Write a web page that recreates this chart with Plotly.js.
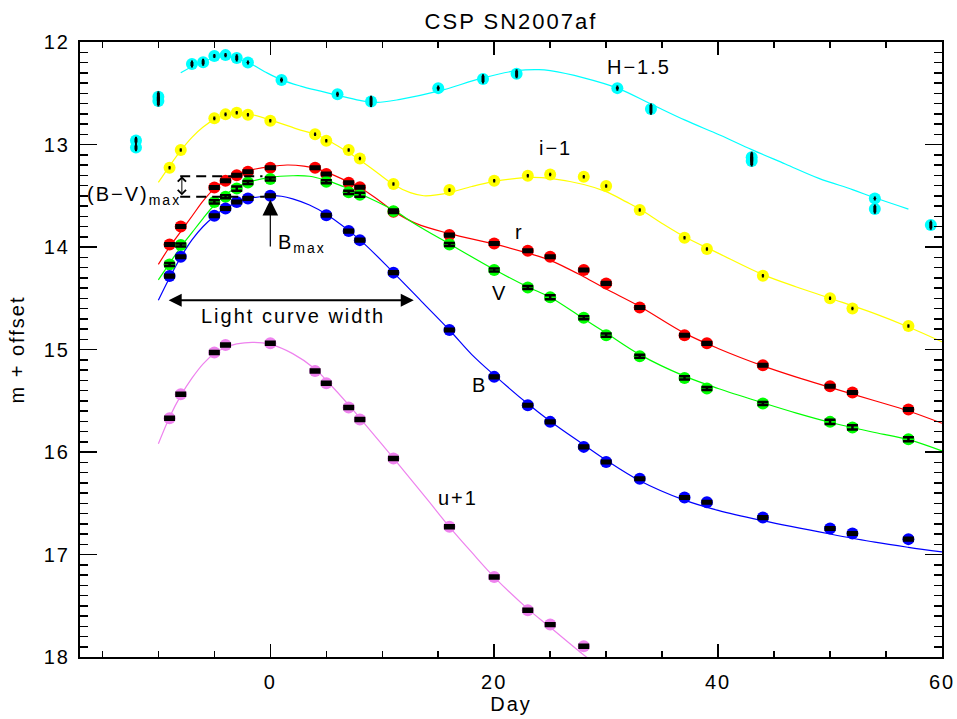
<!DOCTYPE html>
<html><head><meta charset="utf-8">
<script src="https://cdn.plot.ly/plotly-3.0.1.min.js"></script>
<style>
html,body{margin:0;padding:0;background:#fff}
#chart{width:957px;height:719px}
text{letter-spacing:2px}
</style></head><body><div id="chart"></div>
<script>
// ---------- observed photometry (day relative to B max, magnitude + offset) ----------
const H_day = [-12, -12, -10, -10, -7, -6, -5, -4, -3, -2, 1, 6, 9, 15, 19, 22, 31, 34, 43, 43, 54, 54, 59];
const H_mag = [12.96, 13.03, 12.535, 12.575, 12.215, 12.198, 12.137, 12.128, 12.155, 12.20, 12.37, 12.51, 12.58, 12.45, 12.36, 12.31, 12.45, 12.654, 13.125, 13.16, 13.526, 13.63, 13.786];
const H_err = [0.02, 0.02, 0.04, 0.04, 0.02, 0.02, 0.005, 0.005, 0.02, 0.005, 0.01, 0.01, 0.04, 0.01, 0.03, 0.03, 0.01, 0.04, 0.04, 0.04, 0.005, 0.03, 0.03];

const i_day = [-9, -8, -5, -4, -3, -2, 0, 4, 5, 7, 8, 11, 16, 20, 23, 25, 28, 30, 33, 37, 39, 44, 50, 52, 57];
const i_mag = [13.227, 13.054, 12.745, 12.706, 12.69, 12.71, 12.768, 12.90, 12.963, 13.054, 13.136, 13.386, 13.445, 13.354, 13.305, 13.292, 13.315, 13.405, 13.64, 13.91, 14.02, 14.28, 14.50, 14.60, 14.77];
const i_err = [0.005, 0.005, 0.005, 0.005, 0.005, 0.005, 0.005, 0.005, 0.005, 0.005, 0.005, 0.005, 0.005, 0.005, 0.005, 0.005, 0.005, 0.005, 0.005, 0.005, 0.005, 0.005, 0.005, 0.005, 0.005];

const r_day = [-9, -8, -5, -4, -3, -2, 0, 4, 5, 7, 8, 11, 16, 20, 23, 25, 28, 30, 33, 37, 39, 44, 50, 52, 57];
const r_mag = [13.975, 13.80, 13.42, 13.354, 13.30, 13.266, 13.227, 13.227, 13.288, 13.373, 13.418, 13.656, 13.884, 13.965, 14.037, 14.096, 14.225, 14.355, 14.59, 14.86, 14.94, 15.153, 15.358, 15.42, 15.586];
const r_err = [0.01, 0.01, 0.01, 0.01, 0.01, 0.01, 0.01, 0.01, 0.01, 0.01, 0.01, 0.01, 0.01, 0.01, 0.01, 0.01, 0.01, 0.01, 0.01, 0.01, 0.01, 0.01, 0.01, 0.01, 0.01];

const V_day = [-9, -8, -5, -4, -3, -2, 0, 5, 7, 8, 11, 16, 20, 23, 25, 28, 30, 33, 37, 39, 44, 50, 52, 57];
const V_mag = [14.17, 13.98, 13.56, 13.51, 13.43, 13.37, 13.337, 13.363, 13.467, 13.49, 13.65, 13.975, 14.225, 14.395, 14.49, 14.69, 14.86, 15.065, 15.277, 15.38, 15.527, 15.706, 15.76, 15.875];
const V_err = [0.015, 0.015, 0.015, 0.015, 0.02, 0.015, 0.015, 0.015, 0.015, 0.02, 0.015, 0.015, 0.015, 0.015, 0.02, 0.015, 0.015, 0.015, 0.015, 0.015, 0.015, 0.02, 0.02, 0.02];

const B_day = [-9, -8, -5, -4, -3, -2, 0, 5, 7, 8, 11, 16, 20, 23, 25, 28, 30, 33, 37, 39, 44, 50, 52, 57];
const B_mag = [14.284, 14.096, 13.695, 13.624, 13.56, 13.526, 13.50, 13.69, 13.845, 13.933, 14.25, 14.81, 15.267, 15.543, 15.706, 15.95, 16.097, 16.26, 16.444, 16.49, 16.64, 16.747, 16.795, 16.85];
const B_err = [0.01, 0.01, 0.01, 0.01, 0.01, 0.01, 0.01, 0.01, 0.01, 0.01, 0.01, 0.01, 0.01, 0.01, 0.01, 0.01, 0.01, 0.01, 0.01, 0.01, 0.01, 0.01, 0.01, 0.01];

const u_day = [-9, -8, -5, -4, 0, 4, 5, 7, 8, 11, 16, 20, 23, 25, 28];
const u_mag = [15.67, 15.436, 15.03, 14.957, 14.94, 15.21, 15.33, 15.566, 15.683, 16.064, 16.73, 17.22, 17.544, 17.684, 17.896];
const u_err = [0.012, 0.012, 0.012, 0.012, 0.012, 0.012, 0.012, 0.012, 0.012, 0.012, 0.012, 0.012, 0.012, 0.012, 0.012];

// ---------- template fits (knots) ----------
const H_fit_day = [-8, -6, -4, -2, -0.5, 1, 2.7, 4.5, 6, 8, 9.5, 11.6, 15, 19, 22, 24, 25, 28, 31, 34, 37, 40.2, 43, 46, 49, 52, 54, 57];
const H_fit_mag = [12.30, 12.19, 12.14, 12.20, 12.29, 12.37, 12.43, 12.48, 12.52, 12.57, 12.59, 12.56, 12.48, 12.35, 12.28, 12.27, 12.28, 12.35, 12.45, 12.605, 12.76, 12.91, 13.05, 13.19, 13.33, 13.44, 13.52, 13.63];

const i_fit_day = [-10, -9, -8, -7, -6, -5, -4, -3, -2, 0, 2.7, 4, 5.5, 7, 8, 9.5, 11, 12.5, 13.7, 15, 16, 18, 20, 22, 23.5, 25, 28, 30, 31.8, 33, 35, 37, 40, 44, 47, 50, 54, 57, 60];
const i_fit_mag = [13.37, 13.21, 13.06, 12.93, 12.83, 12.755, 12.71, 12.69, 12.70, 12.76, 12.86, 12.90, 12.98, 13.08, 13.15, 13.27, 13.39, 13.47, 13.50, 13.49, 13.47, 13.41, 13.36, 13.33, 13.32, 13.33, 13.39, 13.46, 13.56, 13.63, 13.77, 13.90, 14.06, 14.27, 14.39, 14.50, 14.65, 14.78, 14.925];

const r_fit_day = [-10, -9, -8, -7, -6, -5, -4, -3, -2, 0, 1.5, 3, 4, 5, 6.5, 8, 9.5, 11, 13, 16, 20, 23, 25, 28, 30, 33, 37, 40, 44, 47, 50, 54, 57, 60];
const r_fit_mag = [14.17, 14.00, 13.85, 13.70, 13.55, 13.43, 13.35, 13.29, 13.255, 13.215, 13.20, 13.21, 13.23, 13.27, 13.34, 13.42, 13.53, 13.65, 13.77, 13.87, 13.97, 14.06, 14.13, 14.29, 14.41, 14.58, 14.84, 14.99, 15.16, 15.27, 15.37, 15.50, 15.60, 15.72];

const V_fit_day = [-10, -9, -8, -7, -6, -5, -4, -3, -2, 0, 2, 3.5, 5, 6.5, 8, 11, 13, 16, 20, 23, 25, 28, 30, 33, 37, 40, 44, 47, 50, 54, 57, 60];
const V_fit_mag = [14.32, 14.16, 14.00, 13.86, 13.72, 13.59, 13.49, 13.42, 13.37, 13.32, 13.305, 13.31, 13.35, 13.41, 13.48, 13.64, 13.78, 13.97, 14.22, 14.39, 14.49, 14.70, 14.84, 15.05, 15.26, 15.38, 15.52, 15.62, 15.71, 15.81, 15.88, 15.99];

const B_fit_day = [-10, -9, -8, -7, -6, -5, -4, -3, -2, 0, 1, 2, 3.5, 5, 8, 11, 13.5, 16, 18, 20, 23, 25, 28, 30, 33, 37, 40, 44, 50, 54, 57, 60];
const B_fit_mag = [14.52, 14.30, 14.10, 13.93, 13.80, 13.70, 13.62, 13.57, 13.53, 13.50, 13.505, 13.53, 13.59, 13.68, 13.93, 14.25, 14.53, 14.81, 15.05, 15.25, 15.53, 15.70, 15.93, 16.08, 16.28, 16.47, 16.57, 16.67, 16.80, 16.88, 16.93, 16.975];

const u_fit_day = [-10, -9, -8, -7, -6, -5, -4, -3, -1.5, 0, 2, 4, 5, 7, 8, 11, 14, 16, 18, 20, 23, 25, 28, 29];
const u_fit_mag = [15.92, 15.66, 15.45, 15.28, 15.14, 15.04, 14.98, 14.945, 14.93, 14.95, 15.04, 15.19, 15.30, 15.54, 15.67, 16.06, 16.46, 16.73, 16.98, 17.22, 17.53, 17.71, 17.98, 18.06];

// ---------- curve labels ----------
const label_text = ['H\u22121.5', 'i\u22121', 'r', 'V', 'B', 'u+1'];
const label_day  = [32.95, 25.45, 22.3, 20.5, 18.65, 16.8];
const label_mag  = [12.245, 13.03, 13.85, 14.445, 15.343, 16.446];

const bands = [
  {d:H_day, m:H_mag, e:H_err, fd:H_fit_day, fm:H_fit_mag, c:'#00FFFF', cap:1, th:3},
  {d:i_day, m:i_mag, e:i_err, fd:i_fit_day, fm:i_fit_mag, c:'#FFFF00', cap:1, th:2.5},
  {d:r_day, m:r_mag, e:r_err, fd:r_fit_day, fm:r_fit_mag, c:'#FF0000', cap:5.5, th:3},
  {d:V_day, m:V_mag, e:V_err, fd:V_fit_day, fm:V_fit_mag, c:'#00FF00', cap:5.5, th:2.5},
  {d:B_day, m:B_mag, e:B_err, fd:B_fit_day, fm:B_fit_mag, c:'#0000FF', cap:5.5, th:3},
  {d:u_day, m:u_mag, e:u_err, fd:u_fit_day, fm:u_fit_mag, c:'#EE82EE', cap:5.5, th:3}
];

const traces = [];
// fitted curves
bands.forEach(b => {
  traces.push({x:b.fd, y:b.fm, type:'scatter', mode:'lines', line:{color:b.c, width:1.2, shape:'spline', smoothing:1}, hoverinfo:'skip'});
});
// coloured symbols
bands.forEach(b => {
  traces.push({x:b.d, y:b.m, type:'scatter', mode:'markers', marker:{color:b.c, size:12, line:{width:0}}});
});
// black error bars drawn on top of the symbols
bands.forEach(b => {
  traces.push({x:b.d, y:b.m, type:'scatter', mode:'markers', marker:{color:b.c, size:1, opacity:0},
    error_y:{type:'data', array:b.e, visible:true, color:'black', thickness:b.th, width:b.cap}});
});

const FONT = 'Liberation Sans, Arial, sans-serif';
const annotations = label_text.map((t, k) => ({
  x: label_day[k], y: label_mag[k], xref:'x', yref:'y', text:t, showarrow:false,
  font:{family:FONT, size:20, color:'black'}, xanchor:'center', yanchor:'middle'
}));

// B max arrow
annotations.push({x:0, y:13.54, ax:0, ay:14.01, xref:'x', yref:'y', axref:'x', ayref:'y', text:'', showarrow:true,
  arrowhead:2, arrowsize:2.6, arrowwidth:1.2, arrowcolor:'black'});
annotations.push({x:0.55, y:13.97, xref:'x', yref:'y', text:'B<sub>max</sub>', showarrow:false, xanchor:'left', yanchor:'middle',
  font:{family:FONT, size:20, color:'black'}});
// light curve width
annotations.push({x:-9.08, y:14.52, ax:12.95, ay:14.52, xref:'x', yref:'y', axref:'x', ayref:'y', text:'', showarrow:true,
  arrowhead:2, startarrowhead:2, arrowside:'end+start', arrowsize:1.3, startarrowsize:1.3, arrowwidth:2, arrowcolor:'black'});
annotations.push({x:2.05, y:14.67, xref:'x', yref:'y', text:'Light curve width', showarrow:false, xanchor:'center', yanchor:'middle',
  font:{family:FONT, size:20, color:'black'}});
// (B-V)max
annotations.push({x:-7.9, y:13.31, ax:-7.9, ay:13.51, xref:'x', yref:'y', axref:'x', ayref:'y', text:'', showarrow:true,
  arrowhead:4, startarrowhead:4, arrowside:'end+start', arrowsize:1.6, startarrowsize:1.6, arrowwidth:1, arrowcolor:'black'});
annotations.push({x:-16.55, y:13.50, xref:'x', yref:'y', text:'(B\u2212V)<sub>max</sub>', showarrow:false, xanchor:'left', yanchor:'middle',
  font:{family:FONT, size:20, color:'black'}});

const shapes = [
  {type:'line', xref:'x', yref:'y', x0:-8.05, x1:-0.7, y0:13.31, y1:13.31, line:{color:'black', width:2, dash:'10px,6px'}},
  {type:'line', xref:'x', yref:'y', x0:-8.05, x1:-0.5, y0:13.51, y1:13.51, line:{color:'black', width:2, dash:'10px,6px'}}
];

const axisCommon = {
  showgrid:false, zeroline:false, showline:true, linecolor:'black', linewidth:2,
  mirror:'allticks', ticks:'inside', tickcolor:'black', tickwidth:1.5,
  tickfont:{family:FONT, size:20, color:'black'}, autorange:false
};

const layout = {
  width:957, height:719,
  margin:{l:80, r:15, t:42, b:62},
  paper_bgcolor:'white', plot_bgcolor:'white', showlegend:false,
  font:{family:FONT, size:20, color:'black'},
  title:{text:'CSP SN2007af', x:0.5, xref:'paper', xanchor:'center', y:0.971, yref:'container', yanchor:'middle',
    font:{family:FONT, size:22, color:'black'}},
  xaxis:Object.assign({}, axisCommon, {range:[-17, 60], tick0:0, dtick:20, ticklen:13, ticklabelstandoff:6,
    minor:{tick0:0, dtick:5, ticks:'inside', ticklen:6, tickwidth:1.5, tickcolor:'black', showgrid:false},
    title:{text:'Day', standoff:4, font:{family:FONT, size:20, color:'black'}}}),
  yaxis:Object.assign({}, axisCommon, {range:[18, 12], tick0:12, dtick:1, ticklen:17, ticklabelstandoff:4,
    minor:{tick0:12, dtick:0.1, ticks:'inside', ticklen:8, tickwidth:1.5, tickcolor:'black', showgrid:false},
    title:{text:'m + offset', standoff:14, font:{family:FONT, size:20, color:'black'}}}),
  annotations:annotations,
  shapes:shapes
};

Plotly.newPlot('chart', traces, layout, {displayModeBar:false, staticPlot:true}).then(() => {
  // arrow-only annotations leave empty text nodes behind; drop them
  document.querySelectorAll('#chart text').forEach(t => { if (!t.textContent.trim()) t.remove(); });
});
</script></body></html>
